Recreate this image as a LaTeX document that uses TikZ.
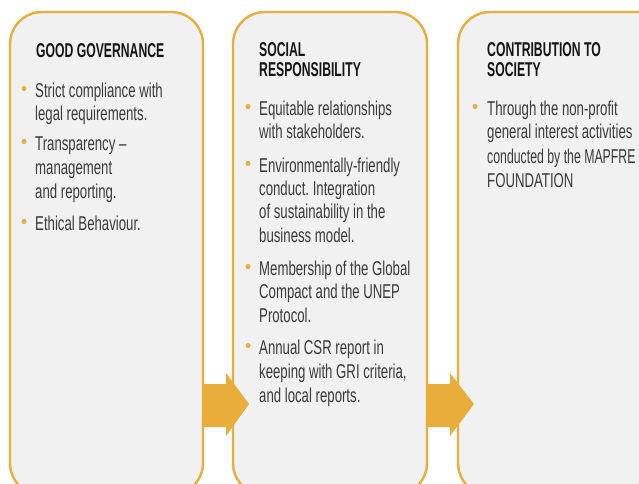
\documentclass[tikz,border=0pt]{standalone}
\usepackage{fontspec}
\setmainfont[FakeStretch=0.66]{Liberation Sans}
\newfontfamily\narrowfont[FakeStretch=0.615]{Liberation Sans}
\newfontfamily\headfont[FakeStretch=0.61]{Liberation Sans}
\frenchspacing
\definecolor{gold}{HTML}{E9AD3A}
\definecolor{panel}{HTML}{F1F1F1}
\definecolor{bodytxt}{HTML}{3A3A3A}
\definecolor{headtxt}{HTML}{151515}
\newcommand\tline[3]{\node[txt] (#1) at #2 {#3};}
\newcommand\headline[3]{\node[head] (#1) at #2 {#3};}
\newcommand\bdot[2]{\fill[gold] (#2) circle (2.5) coordinate (#1);}
\begin{document}
\begin{tikzpicture}[x=1pt,y=-1pt,
  panelbox/.style={draw=gold,line width=2.4pt,fill=panel,rounded corners=32pt},
  txt/.style={anchor=base west,inner sep=0pt,font=\frenchspacing\fontsize{20}{24}\selectfont,text=bodytxt},
  head/.style={anchor=base west,inner sep=0pt,font=\headfont\bfseries\fontsize{20}{24}\selectfont,text=headtxt},
  flow/.style={fill=gold}]
\useasboundingbox (0,0) rectangle (639,483);
\fill[white] (0,0) rectangle (639,483);
% panels
\draw[panelbox] (10,12) rectangle (203,495);
\draw[panelbox] (233,12) rectangle (427,495);
\draw[panelbox] (458,12) rectangle (690,495);
% arrows
\fill[flow] (203,384) -- (226,384) -- (226,373) -- (249,404) -- (226,436) -- (226,427) -- (203,427) -- cycle;
\fill[flow] (427,384) -- (450,384) -- (450,373) -- (474,404) -- (450,436) -- (450,427) -- (427,427) -- cycle;
% panel 1
\headline{h1}{(36,57)}{GOOD GOVERNANCE}
\bdot{d11}{24,88.5}
\tline{a1}{(35,97)}{Strict compliance with}
\tline{a2}{(35,120)}{legal requirements.}
\bdot{d12}{24,141.5}
\tline{a3}{(35,150)}{Transparency –}
\tline{a4}{(35,174)}{management}
\tline{a5}{(35,198)}{and reporting.}
\bdot{d13}{24,221.5}
\tline{a6}{(35,230)}{Ethical Behaviour.}
% panel 2
\headline{h2a}{(259,56)}{SOCIAL}
\headline{h2b}{(259,76)}{RESPONSIBILITY}
\bdot{d21}{248,106.5}
\tline{b1}{(259,115)}{Equitable relationships}
\tline{b2}{(259,138)}{with stakeholders.}
\bdot{d22}{248,163.5}
\tline{b3}{(259,172)}{Environmentally-friendly}
\tline{b4}{(259,195)}{conduct. Integration}
\tline{b5}{(259,218)}{of sustainability in the}
\tline{b6}{(259,242)}{business model.}
\bdot{d23}{248,266.5}
\tline{b7}{(259,275)}{Membership of the Global}
\tline{b8}{(259,298)}{Compact and the UNEP}
\tline{b9}{(259,322)}{Protocol.}
\bdot{d24}{248,345.5}
\tline{b10}{(259,354)}{Annual CSR report in}
\tline{b11}{(259,378)}{keeping with GRI criteria,}
\tline{b12}{(259,402)}{and local reports.}
% panel 3
\headline{h3a}{(487,56)}{CONTRIBUTION TO}
\headline{h3b}{(487,76)}{SOCIETY}
\bdot{d31}{475,106.5}
\tline{c1}{(487,115)}{Through the non-profit}
\tline{c2}{(487,138)}{general interest activities}
\tline{c3}{(487,163)}{\narrowfont conducted by the MAPFRE}
\tline{c4}{(487,187)}{FOUNDATION}
\end{tikzpicture}
\end{document}
